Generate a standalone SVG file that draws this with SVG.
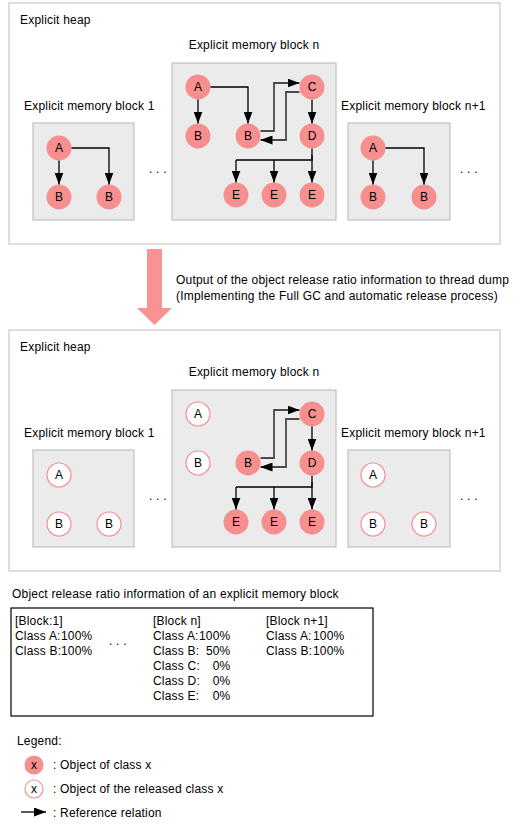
<svg xmlns="http://www.w3.org/2000/svg" width="521" height="827" viewBox="0 0 521 827">
<style>
text{font-family:"Liberation Sans",Arial,sans-serif;font-size:12px;fill:#000;letter-spacing:0.2px}
.heap{fill:#fff;stroke:#c8c8c8;stroke-width:1.2}
.blk{fill:#ebebeb;stroke:#c0c0c0;stroke-width:1.2}
.obj{fill:#f78f8f;stroke:none}
.rel{fill:#fff;stroke:#f78f8f;stroke-width:1.2}
.ct{text-anchor:middle;letter-spacing:0}
.ln{fill:none;stroke:#000;stroke-width:1.3}
.lg{fill:none;stroke:#4a4a4a;stroke-width:1.8}
.arr{marker-end:url(#ah)}
.v{text-anchor:end;letter-spacing:0.2px}
</style>
<defs>
<marker id="ah" markerUnits="userSpaceOnUse" markerWidth="12" markerHeight="9" refX="12" refY="4.5" orient="auto">
<path d="M0,0 L12,4.5 L0,9 z" fill="#000"/>
</marker>
</defs>

<!-- Top heap -->
<g id="heap-top">
<rect class="heap" x="9" y="3" width="491" height="241"/>
<text x="20" y="24">Explicit heap</text>
</g>
<g id="top-block1">
<rect class="blk" x="33" y="123" width="101" height="97"/>
<text x="24" y="110">Explicit memory block 1</text>
<circle class="obj" cx="59" cy="148" r="12.5"/><text class="ct" x="59" y="152">A</text>
<circle class="obj" cx="59" cy="197" r="12.5"/><text class="ct" x="59" y="201">B</text>
<circle class="obj" cx="109" cy="197" r="12.5"/><text class="ct" x="109" y="201">B</text>
</g>
<g id="top-blockn">
<rect class="blk" x="172" y="63" width="164" height="157"/>
<text class="ct" x="254" y="49" style="letter-spacing:0.2px">Explicit memory block n</text>
<circle class="obj" cx="198" cy="87" r="12.5"/><text class="ct" x="198" y="91">A</text>
<circle class="obj" cx="198" cy="136" r="12.5"/><text class="ct" x="198" y="140">B</text>
<circle class="obj" cx="248" cy="136" r="12.5"/><text class="ct" x="248" y="140">B</text>
<circle class="obj" cx="312" cy="87" r="12.5"/><text class="ct" x="312" y="91">C</text>
<circle class="obj" cx="312" cy="136" r="12.5"/><text class="ct" x="312" y="140">D</text>
<circle class="obj" cx="236" cy="195" r="12.5"/><text class="ct" x="236" y="199">E</text>
<circle class="obj" cx="274" cy="195" r="12.5"/><text class="ct" x="274" y="199">E</text>
<circle class="obj" cx="312" cy="195" r="12.5"/><text class="ct" x="312" y="199">E</text>
</g>
<g id="top-blockn1">
<rect class="blk" x="348" y="123" width="102" height="97"/>
<text x="341" y="110">Explicit memory block n+1</text>
<circle class="obj" cx="373" cy="148" r="12.5"/><text class="ct" x="373" y="152">A</text>
<circle class="obj" cx="373" cy="197" r="12.5"/><text class="ct" x="373" y="201">B</text>
<circle class="obj" cx="424" cy="197" r="12.5"/><text class="ct" x="424" y="201">B</text>
</g>
<text x="149" y="173">. . .</text>
<text x="460" y="173">. . .</text>

<!-- Transition arrow -->
<g id="transition">
<polygon points="147,249 162,249 162,308 172,308 154.5,325 137,308 147,308" fill="#f99393"/>
<text x="176" y="284">Output of the object release ratio information to thread dump</text>
<text x="176" y="300">(Implementing the Full GC and automatic release process)</text>
</g>

<!-- Bottom heap -->
<g id="heap-bottom">
<rect class="heap" x="9" y="330" width="491" height="241"/>
<text x="20" y="351">Explicit heap</text>
</g>
<g id="bot-block1">
<rect class="blk" x="33" y="450" width="101" height="97"/>
<text x="24" y="437">Explicit memory block 1</text>
<circle class="rel" cx="59" cy="475" r="12"/><text class="ct" x="59" y="479">A</text>
<circle class="rel" cx="59" cy="524" r="12"/><text class="ct" x="59" y="528">B</text>
<circle class="rel" cx="109" cy="524" r="12"/><text class="ct" x="109" y="528">B</text>
</g>
<g id="bot-blockn">
<rect class="blk" x="172" y="390" width="164" height="157"/>
<text class="ct" x="254" y="376" style="letter-spacing:0.2px">Explicit memory block n</text>
<circle class="rel" cx="198" cy="414" r="12"/><text class="ct" x="198" y="418">A</text>
<circle class="rel" cx="198" cy="463" r="12"/><text class="ct" x="198" y="467">B</text>
<circle class="obj" cx="248" cy="463" r="12.5"/><text class="ct" x="248" y="467">B</text>
<circle class="obj" cx="312" cy="414" r="12.5"/><text class="ct" x="312" y="418">C</text>
<circle class="obj" cx="312" cy="463" r="12.5"/><text class="ct" x="312" y="467">D</text>
<circle class="obj" cx="236" cy="522" r="12.5"/><text class="ct" x="236" y="526">E</text>
<circle class="obj" cx="274" cy="522" r="12.5"/><text class="ct" x="274" y="526">E</text>
<circle class="obj" cx="312" cy="522" r="12.5"/><text class="ct" x="312" y="526">E</text>
</g>
<g id="bot-blockn1">
<rect class="blk" x="348" y="450" width="102" height="97"/>
<text x="341" y="437">Explicit memory block n+1</text>
<circle class="rel" cx="373" cy="475" r="12"/><text class="ct" x="373" y="479">A</text>
<circle class="rel" cx="373" cy="524" r="12"/><text class="ct" x="373" y="528">B</text>
<circle class="rel" cx="424" cy="524" r="12"/><text class="ct" x="424" y="528">B</text>
</g>
<text x="149" y="500">. . .</text>
<text x="460" y="500">. . .</text>

<!-- Connectors -->
<g id="connectors">
<path class="ln arr" d="M59,160.5 V184.5"/>
<path class="ln arr" d="M71.5,148 H109 V184.5"/>
<path class="ln arr" d="M373,160.5 V184.5"/>
<path class="ln arr" d="M385.5,148 H424 V184.5"/>
<path class="ln arr" d="M198,99.5 V123.5"/>
<path class="ln arr" d="M210.5,87 H248 V123.5"/>
<path class="lg arr" d="M260.5,131 H274 V83 H299.5"/>
<path class="lg arr" d="M299.5,92 H286 V140 H260.5"/>
<path class="ln arr" d="M312,99.5 V123.5"/>
<path class="ln" d="M312,148.5 V160 H236"/>
<path class="ln arr" d="M236,160 V182.5"/>
<path class="ln arr" d="M274,160 V182.5"/>
<path class="ln arr" d="M312,155 V182.5"/>
<path class="lg arr" d="M260.5,458 H274 V410 H299.5"/>
<path class="lg arr" d="M299.5,419 H286 V467 H260.5"/>
<path class="ln arr" d="M312,426.5 V450.5"/>
<path class="ln" d="M312,475.5 V487 H236"/>
<path class="ln arr" d="M236,487 V509.5"/>
<path class="ln arr" d="M274,487 V509.5"/>
<path class="ln arr" d="M312,482 V509.5"/>
</g>

<!-- Release ratio info -->
<g id="ratio-info">
<text x="12" y="598">Object release ratio information of an explicit memory block</text>
<rect x="11" y="608" width="362" height="108" fill="#fff" stroke="#000" stroke-width="1.2"/>
<text x="15" y="625">[Block:1]</text>
<text x="15" y="640">Class A:</text><text class="v" x="92.5" y="640">100%</text>
<text x="15" y="655">Class B:</text><text class="v" x="92.5" y="655">100%</text>
<text x="109" y="645">. . .</text>
<text x="153" y="625">[Block n]</text>
<text x="153" y="640">Class A:</text><text class="v" x="230.5" y="640">100%</text>
<text x="153" y="655">Class B:</text><text class="v" x="230.5" y="655">50%</text>
<text x="153" y="670">Class C:</text><text class="v" x="230.5" y="670">0%</text>
<text x="153" y="685">Class D:</text><text class="v" x="230.5" y="685">0%</text>
<text x="153" y="700">Class E:</text><text class="v" x="230.5" y="700">0%</text>
<text x="266" y="625">[Block n+1]</text>
<text x="266" y="640">Class A:</text><text class="v" x="344.5" y="640">100%</text>
<text x="266" y="655">Class B:</text><text class="v" x="344.5" y="655">100%</text>
</g>

<!-- Legend -->
<g id="legend">
<text x="17" y="745">Legend:</text>
<circle class="obj" cx="34" cy="765" r="9.5"/><text class="ct" x="34" y="769">x</text>
<text x="53" y="769">: Object of class x</text>
<circle class="rel" cx="34" cy="789" r="9"/><text class="ct" x="34" y="793">x</text>
<text x="53" y="793">: Object of the released class x</text>
<path class="ln arr" d="M21,812 H46"/>
<text x="53" y="817">: Reference relation</text>
</g>
</svg>
